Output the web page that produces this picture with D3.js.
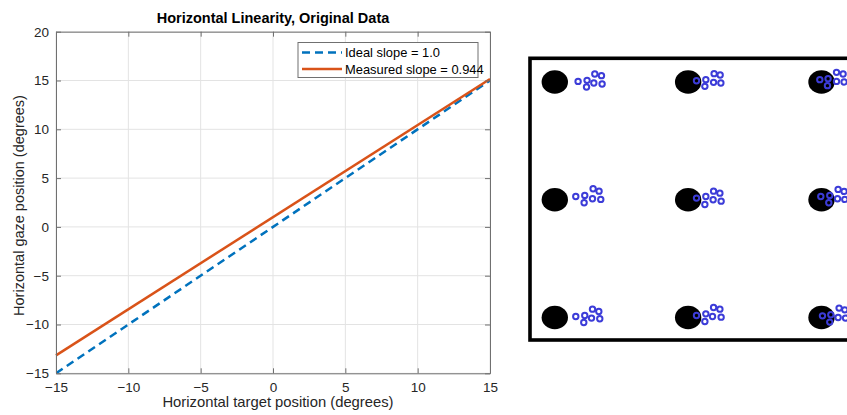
<!DOCTYPE html>
<html>
<head>
<meta charset="utf-8">
<script src="https://cdn.jsdelivr.net/npm/d3@7"></script>
<style>
  body { margin: 0; background: #fff; }
  text { font-family: "Liberation Sans", Arial, Helvetica, sans-serif; }
</style>
</head>
<body>
<script>
// ---- data ----
const xTicks = [-15, -10, -5, 0, 5, 10, 15];
const yTicks = [-15, -10, -5, 0, 5, 10, 15, 20];

// fitted lines, evaluated at the ends of the target range
const lineX = [-15, 15];
const idealY = [-15, 15];
const measuredY = [-13.16, 15.16];

const legendLabels = ["Ideal slope = 1.0", "Measured slope = 0.944"];

// target grid (degrees)
const targetCols = [-15, 0, 15];
const targetRows = [10, 0, -10];

// gaze samples per target, row by row (top to bottom), col by col (left to right)
const gazeX = [
  [-12.38, -11.37, -11.43, -10.50, -9.75, -10.61, -9.68],
  [0.94, 1.99, 1.88, 2.92, 3.60, 2.86, 3.68],
  [14.81, 15.74, 15.67, 16.69, 17.43, 16.69, 17.54],
  [-12.64, -11.63, -11.70, -10.69, -10.02, -10.76, -9.83],
  [0.94, 1.99, 1.88, 2.86, 3.57, 2.81, 3.71],
  [14.92, 15.93, 15.82, 16.87, 17.54, 16.80, 17.62],
  [-12.64, -11.63, -11.74, -10.76, -10.05, -10.87, -9.94],
  [0.94, 1.99, 1.88, 2.86, 3.57, 2.74, 3.71],
  [15.11, 16.05, 15.93, 16.98, 17.62, 16.87, 17.70]
];
const gazeY = [
  [10.05, 10.14, 9.58, 10.68, 10.54, 9.92, 9.83],
  [10.11, 10.20, 9.63, 10.71, 10.59, 9.97, 9.92],
  [10.20, 10.28, 9.69, 10.82, 10.68, 10.05, 10.00],
  [0.28, 0.37, -0.25, 0.93, 0.73, 0.08, 0.03],
  [0.14, 0.28, -0.40, 0.73, 0.56, 0.00, -0.12],
  [0.28, 0.37, -0.25, 0.88, 0.71, 0.08, 0.03],
  [-9.92, -9.83, -10.42, -9.29, -9.49, -10.05, -10.11],
  [-9.83, -9.69, -10.34, -9.15, -9.29, -9.92, -9.97],
  [-9.86, -9.77, -10.39, -9.20, -9.35, -10.00, -10.05]
];

const blue = "#0072BD", orange = "#D95319", axisCol = "#262626";

const width = 847, height = 415;
const svg = d3.select("body").append("svg")
    .attr("width", width)
    .attr("height", height);

// ---- left: linearity plot ----
const x = d3.scaleLinear().domain([-15, 15]).range([56, 490]);
const y = d3.scaleLinear().domain([-15, 20]).range([373.3, 31.7]);

const plot = svg.append("g");

// grid
plot.selectAll(".gx").data(xTicks).enter().append("line")
    .attr("x1", d => x(d)).attr("x2", d => x(d))
    .attr("y1", y.range()[0]).attr("y2", y.range()[1])
    .attr("stroke", "#e3e3e3").attr("stroke-width", 1);
plot.selectAll(".gy").data(yTicks).enter().append("line")
    .attr("y1", d => y(d)).attr("y2", d => y(d))
    .attr("x1", x.range()[0]).attr("x2", x.range()[1])
    .attr("stroke", "#e3e3e3").attr("stroke-width", 1);

// lines
const lineGen = d3.line().x(d => x(d[0])).y(d => y(d[1]));
svg.append("clipPath").attr("id", "plotclip")
    .append("rect")
    .attr("x", x.range()[0]).attr("y", y.range()[1])
    .attr("width", x.range()[1] - x.range()[0])
    .attr("height", y.range()[0] - y.range()[1]);

plot.append("path")
    .datum(lineX.map((v, i) => [v, idealY[i]]))
    .attr("d", lineGen)
    .attr("fill", "none")
    .attr("stroke", blue)
    .attr("stroke-width", 2.5)
    .attr("stroke-dasharray", "8,5")
    .attr("clip-path", "url(#plotclip)");

plot.append("path")
    .datum(lineX.map((v, i) => [v, measuredY[i]]))
    .attr("d", lineGen)
    .attr("fill", "none")
    .attr("stroke", orange)
    .attr("stroke-width", 2.5);

// axes (box with inward ticks)
const xAxisB = d3.axisBottom(x).tickValues(xTicks).tickSizeInner(-5).tickSizeOuter(0).tickPadding(9);
const xAxisT = d3.axisTop(x).tickValues(xTicks).tickSizeInner(-5).tickSizeOuter(0).tickFormat("");
const yAxisL = d3.axisLeft(y).tickValues(yTicks).tickSizeInner(-5).tickSizeOuter(0).tickPadding(7);
const yAxisR = d3.axisRight(y).tickValues(yTicks).tickSizeInner(-5).tickSizeOuter(0).tickFormat("");

function styleAxis(g) {
  g.select(".domain").attr("stroke", "#707070");
  g.selectAll(".tick line").attr("stroke", "#707070");
  g.selectAll(".tick text").attr("fill", axisCol).style("font-size", "13.5px")
    .style("font-family", "'Liberation Sans', Arial, sans-serif");
}
plot.append("g").attr("transform", `translate(0,${y.range()[0]})`).call(xAxisB).call(styleAxis);
plot.append("g").attr("transform", `translate(0,${y.range()[1]})`).call(xAxisT).call(styleAxis);
plot.append("g").attr("transform", `translate(${x.range()[0]},0)`).call(yAxisL).call(styleAxis);
plot.append("g").attr("transform", `translate(${x.range()[1]},0)`).call(yAxisR).call(styleAxis);

// title and labels
svg.append("text")
    .attr("x", (x.range()[0] + x.range()[1]) / 2).attr("y", 23)
    .attr("text-anchor", "middle")
    .style("font-size", "14.5px").style("font-weight", "bold")
    .attr("fill", "#000")
    .text("Horizontal Linearity, Original Data");

svg.append("text")
    .attr("x", (x.range()[0] + x.range()[1]) / 2 + 5).attr("y", 407)
    .attr("text-anchor", "middle")
    .style("font-size", "14.8px").attr("fill", axisCol)
    .text("Horizontal target position (degrees)");

svg.append("text")
    .attr("transform", `translate(24,${(y.range()[0] + y.range()[1]) / 2 + 3}) rotate(-90)`)
    .attr("text-anchor", "middle")
    .style("font-size", "14.5px").attr("fill", axisCol)
    .text("Horizontal gaze position (degrees)");

// legend
const legend = svg.append("g").attr("transform", "translate(298,42.5)");
legend.append("rect")
    .attr("width", 180).attr("height", 35)
    .attr("fill", "#fff").attr("stroke", "#707070").attr("stroke-width", 1);
const legendStyles = [
  {stroke: blue, dash: "8,5"},
  {stroke: orange, dash: null}
];
legendLabels.forEach((lab, i) => {
  const yy = 10 + i * 16.5;
  legend.append("line")
      .attr("x1", 4).attr("x2", 44).attr("y1", yy).attr("y2", yy)
      .attr("stroke", legendStyles[i].stroke).attr("stroke-width", 2.5)
      .attr("stroke-dasharray", legendStyles[i].dash);
  legend.append("text")
      .attr("x", 47).attr("y", yy + 4.7)
      .style("font-size", "12.9px").attr("fill", "#000")
      .text(lab);
});

// ---- right: target/gaze display ----
const sx = d3.scaleLinear().domain([-15, 15]).range([554.8, 821.5]);
const sy = d3.scaleLinear().domain([10, -10]).range([82, 317.5]);

const screen = svg.append("g");
screen.append("rect")
    .attr("x", 530).attr("y", 58.3)
    .attr("width", 400).attr("height", 281.7)
    .attr("fill", "#fff").attr("stroke", "#000").attr("stroke-width", 3.6);

const targets = [];
targetRows.forEach(r => targetCols.forEach(c => targets.push({x: c, y: r})));

screen.selectAll(".target").data(targets).enter().append("ellipse")
    .attr("cx", d => sx(d.x)).attr("cy", d => sy(d.y))
    .attr("rx", 13.2).attr("ry", 11.8)
    .attr("fill", "#000");

const samples = [];
gazeX.forEach((row, i) => row.forEach((v, j) => samples.push({x: v, y: gazeY[i][j]})));

screen.selectAll(".gaze").data(samples).enter().append("circle")
    .attr("cx", d => sx(d.x)).attr("cy", d => sy(d.y))
    .attr("r", 2.7)
    .attr("fill", "none")
    .attr("stroke", "#3c3cd8")
    .attr("stroke-width", 2);
</script>
</body>
</html>
